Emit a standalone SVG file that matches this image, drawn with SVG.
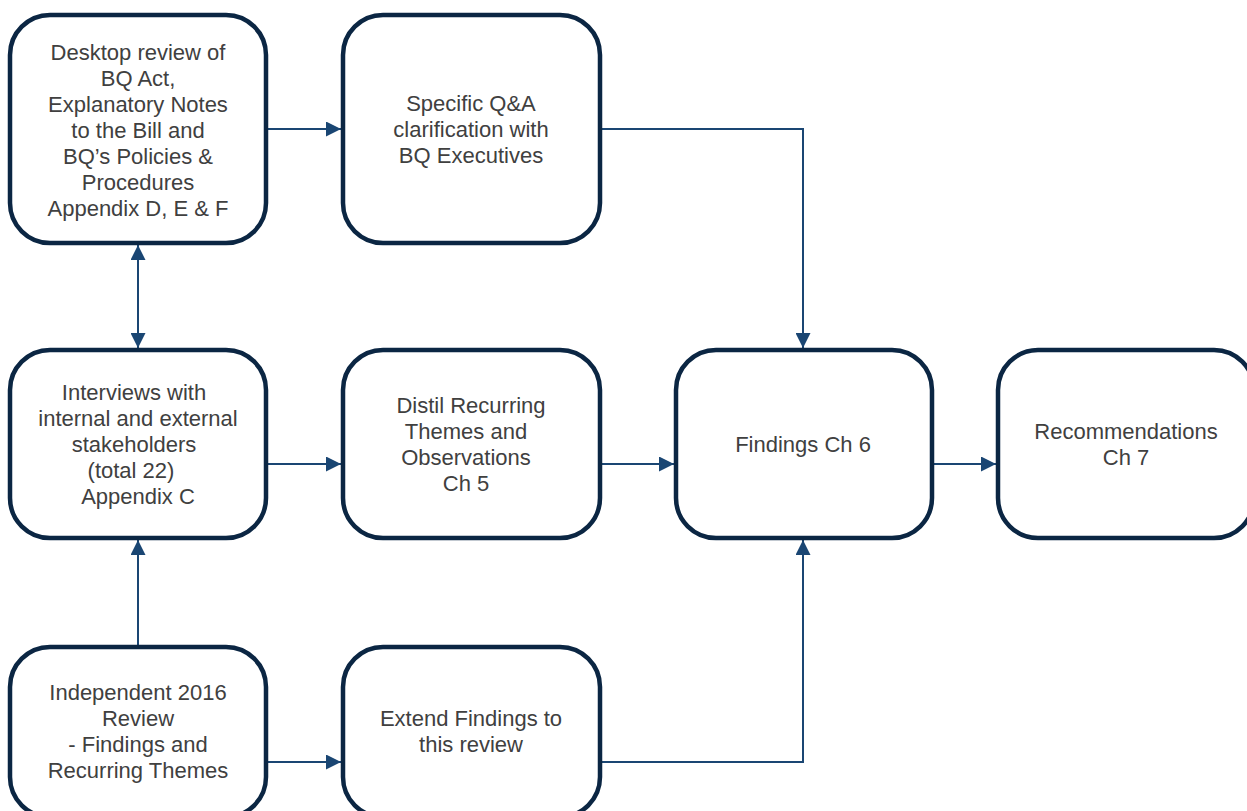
<svg xmlns="http://www.w3.org/2000/svg" width="1247" height="811" viewBox="0 0 1247 811">
<style>
.box{fill:#ffffff;stroke:#0b2643;stroke-width:4.5}
.t{font-family:"Liberation Sans",Arial,sans-serif;font-size:22px;fill:#404040;text-anchor:middle}
.c{fill:none;stroke:#1a4673;stroke-width:2}
</style>
<defs>
<marker id="ah" viewBox="0 0 15 15" refX="15" refY="7.5" markerWidth="15" markerHeight="15" markerUnits="userSpaceOnUse" orient="auto-start-reverse">
<path d="M0,0 L15,7.5 L0,15 Z" fill="#1a4673"/>
</marker>
</defs>
<rect width="1247" height="811" fill="#ffffff"/>
<g id="connectors">
<path class="c" d="M266,129 H341" marker-end="url(#ah)"/>
<path class="c" d="M600,129 H803 V348" marker-end="url(#ah)"/>
<path class="c" d="M138,245 V348" marker-start="url(#ah)" marker-end="url(#ah)"/>
<path class="c" d="M138,647 V540" marker-end="url(#ah)"/>
<path class="c" d="M266,464 H341" marker-end="url(#ah)"/>
<path class="c" d="M600,464 H674" marker-end="url(#ah)"/>
<path class="c" d="M932,464 H996" marker-end="url(#ah)"/>
<path class="c" d="M266,762 H341" marker-end="url(#ah)"/>
<path class="c" d="M600,762 H803 V540" marker-end="url(#ah)"/>
</g>
<g id="n1">
<rect class="box" x="10" y="15" width="256" height="228" rx="40"/>
<text class="t"><tspan x="138" y="60">Desktop review of</tspan><tspan x="138" y="86">BQ Act,</tspan><tspan x="138" y="112">Explanatory Notes</tspan><tspan x="138" y="138">to the Bill and</tspan><tspan x="138" y="164">BQ’s Policies &amp;</tspan><tspan x="138" y="190">Procedures</tspan><tspan x="138" y="216">Appendix D, E &amp; F</tspan></text>
</g>
<g id="n2">
<rect class="box" x="343" y="15" width="257" height="228" rx="40"/>
<text class="t"><tspan x="471" y="111">Specific Q&amp;A</tspan><tspan x="471" y="137">clarification with</tspan><tspan x="471" y="163">BQ Executives</tspan></text>
</g>
<g id="n3">
<rect class="box" x="10" y="350" width="256" height="188" rx="40"/>
<text class="t"><tspan x="134" y="400">Interviews with</tspan><tspan x="138" y="426">internal and external</tspan><tspan x="134" y="452">stakeholders</tspan><tspan x="131" y="478">(total 22)</tspan><tspan x="138" y="504">Appendix C</tspan></text>
</g>
<g id="n4">
<rect class="box" x="343" y="350" width="257" height="188" rx="40"/>
<text class="t"><tspan x="471" y="413">Distil Recurring</tspan><tspan x="466" y="439">Themes and</tspan><tspan x="466" y="465">Observations</tspan><tspan x="466" y="491">Ch 5</tspan></text>
</g>
<g id="n5">
<rect class="box" x="676" y="350" width="256" height="188" rx="40"/>
<text class="t"><tspan x="803" y="452">Findings Ch 6</tspan></text>
</g>
<g id="n6">
<rect class="box" x="998" y="350" width="256" height="188" rx="40"/>
<text class="t"><tspan x="1126" y="439">Recommendations</tspan><tspan x="1126" y="465">Ch 7</tspan></text>
</g>
<g id="n7">
<rect class="box" x="10" y="647" width="256" height="170" rx="40"/>
<text class="t"><tspan x="138" y="700">Independent 2016</tspan><tspan x="138" y="726">Review</tspan><tspan x="138" y="752">- Findings and</tspan><tspan x="138" y="778">Recurring Themes</tspan></text>
</g>
<g id="n8">
<rect class="box" x="343" y="647" width="257" height="170" rx="40"/>
<text class="t"><tspan x="471" y="726">Extend Findings to</tspan><tspan x="471" y="752">this review</tspan></text>
</g>
</svg>
